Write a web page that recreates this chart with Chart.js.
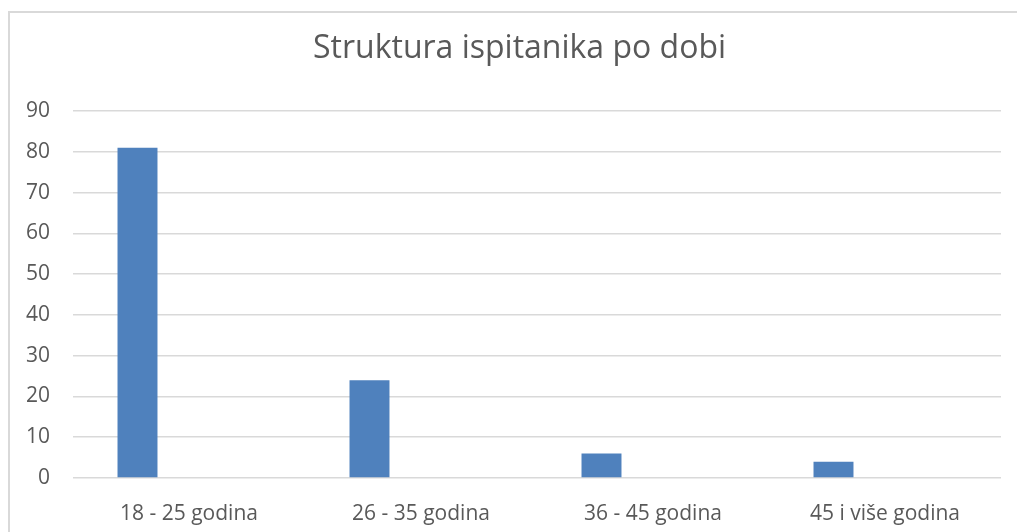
<!DOCTYPE html>
<html>
<head>
<meta charset="utf-8">
<script src="https://cdn.jsdelivr.net/npm/chart.js@4"></script>
<style>
  html, body { margin: 0; padding: 0; background: #fff; overflow: hidden; }
  #frame {
    position: absolute; left: 8px; top: 11px;
    width: 1100px; height: 600px;
    border: 2px solid #d9d9d9; box-sizing: border-box;
  }
  #wrap { position: absolute; left: 0; top: 0; width: 1017px; height: 532px; }
  #title {
    position: absolute; left: 313px; width: 400px; top: 24px;
    text-align: center; white-space: nowrap;
    font: 32px 'Open Sans', sans-serif; line-height: normal; color: #595959;
  }
</style>
</head>
<body>
<div id="frame"></div>
<div id="wrap"><canvas id="ageChart"></canvas></div>
<div id="title">Struktura ispitanika po dobi</div>
<script>
// chart data
const categories = ["18 - 25 godina", "26 - 35 godina", "36 - 45 godina", "45 i više godina"];
const respondents = [81, 24, 6, 4];
const emptySeries = [null, null, null, null]; // second (empty) series in the original
const yTicks = [0, 10, 20, 30, 40, 50, 60, 70, 80, 90];

const FONT = "'Open Sans', sans-serif";
const TEXT = "#595959";
const GRID = "#d9d9d9";

new Chart(document.getElementById("ageChart"), {
  type: "bar",
  data: {
    labels: categories,
    datasets: [
      {
        label: "Broj ispitanika",
        data: respondents,
        backgroundColor: "#4f81bd",
        borderWidth: 0,
        categoryPercentage: 0.888,
        barPercentage: 0.388
      },
      {
        label: "",
        data: emptySeries,
        backgroundColor: "#c0504d",
        borderWidth: 0,
        categoryPercentage: 0.888,
        barPercentage: 0.388
      }
    ]
  },
  options: {
    responsive: true,
    maintainAspectRatio: false,
    animation: false,
    layout: { padding: { left: 0, right: 16, top: 111, bottom: 0 } },
    plugins: {
      legend: { display: false },
      tooltip: { enabled: false },
      title: { display: false }
    },
    scales: {
      x: {
        grid: { display: false },
        border: { display: false },
        ticks: { color: TEXT, font: { family: FONT, size: 21 }, padding: 15 },
        afterFit: s => { s.height = 54; }
      },
      y: {
        min: 0,
        max: yTicks[yTicks.length - 1],
        afterBuildTicks: s => { s.ticks = yTicks.map(v => ({ value: v })); },
        grid: { color: GRID, lineWidth: 1.5, drawTicks: false },
        border: { display: false },
        ticks: { color: TEXT, font: { family: FONT, size: 21 }, padding: 23 },
        afterFit: s => { s.width = 73; }
      }
    }
  }
});
</script>
</body>
</html>
